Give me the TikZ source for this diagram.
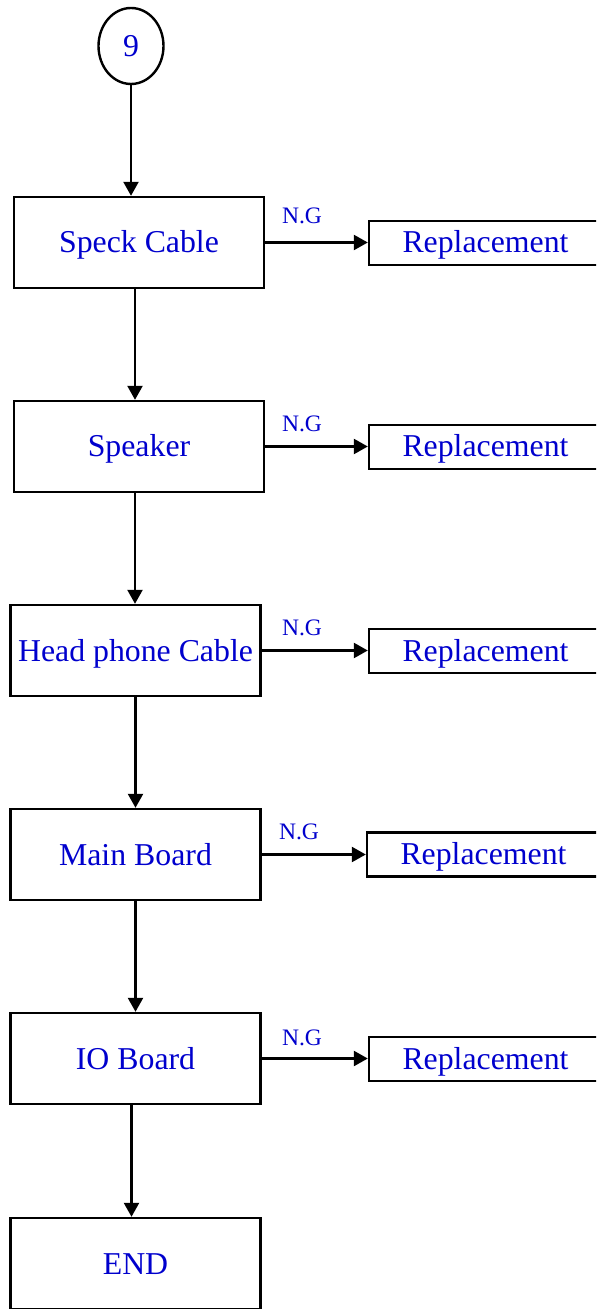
\documentclass[tikz,border=0pt]{standalone}
\usepackage{fontspec}
\setmainfont{Liberation Serif}
\usetikzlibrary{arrows.meta,shapes.geometric}

\definecolor{txtblue}{RGB}{0,0,205}

\begin{document}
\begin{tikzpicture}[x=0.5pt, y=-0.5pt, line width=1.2pt,
    every node/.style={text=txtblue},
    stepbox/.style={draw=black, rectangle, inner sep=0pt,
      minimum width=125pt, minimum height=45.5pt,
      text height=10.5pt, text depth=0pt,
      font=\fontsize{15.9}{19}\selectfont},
    repbox/.style={draw=black, rectangle, inner sep=0pt,
      minimum width=116.5pt, minimum height=22pt,
      text height=10pt, text depth=0pt,
      font=\fontsize{15.9}{19}\selectfont},
    ngl/.style={font=\fontsize{11.8}{14}\selectfont, inner sep=0pt},
    flow/.style={-{Triangle[length=7pt, width=7.5pt]}}]

  \useasboundingbox (0,0) rectangle (596,1309);
  \clip (0,0) rectangle (596,1309);

  % Connector circle
  \node[draw=black, ellipse, inner sep=0pt, minimum width=32.5pt,
        minimum height=38pt, text height=10.5pt, text depth=0pt,
        font=\fontsize{15.9}{19}\selectfont]
        (start) at (131,46) {9};

  % Main column of checks
  \node[stepbox] (cable)   at (139,242.5)   {Speck Cable};
  \node[stepbox] (speaker) at (139,446.5)   {Speaker};
  \node[stepbox] (phone)   at (135.5,650.5) {Head phone Cable};
  \node[stepbox] (mainb)   at (135.5,854.5) {Main Board};
  \node[stepbox] (iob)     at (135.5,1058.5) {IO Board};
  \node[stepbox] (finish)  at (135.5,1263.5) {END};

  % Replacement boxes (run off the right edge)
  \node[repbox] (rep1) at (485.5,243)    {Replacement};
  \node[repbox] (rep2) at (485.5,447)    {Replacement};
  \node[repbox] (rep3) at (485.5,651)    {Replacement};
  \node[repbox] (rep4) at (483.5,854.5)  {Replacement};
  \node[repbox] (rep5) at (485.5,1059)   {Replacement};

  % N.G labels
  \node[ngl] (ng1) at (302,216)  {N.G};
  \node[ngl] (ng2) at (302,424)  {N.G};
  \node[ngl] (ng3) at (302,628)  {N.G};
  \node[ngl] (ng4) at (299,832)  {N.G};
  \node[ngl] (ng5) at (302,1038) {N.G};

  % Downward flow
  \draw[flow] (start.south) -- (start.south |- cable.north);
  \draw[flow] ([xshift=-2pt]cable.south) -- ([xshift=-2pt]speaker.north);
  \draw[flow] ([xshift=-2pt]speaker.south) -- ([xshift=-2pt]speaker.south |- phone.north);
  \draw[flow] (phone.south) -- (mainb.north);
  \draw[flow] (mainb.south) -- (iob.north);
  \draw[flow] ([xshift=-2pt]iob.south) -- ([xshift=-2pt]finish.north);

  % N.G branches
  \draw[flow] (cable.east)   -- (rep1.west |- cable.east);
  \draw[flow] (speaker.east) -- (rep2.west |- speaker.east);
  \draw[flow] (phone.east)   -- (rep3.west |- phone.east);
  \draw[flow] (mainb.east)   -- (rep4.west |- mainb.east);
  \draw[flow] (iob.east)     -- (rep5.west |- iob.east);

\end{tikzpicture}
\end{document}
